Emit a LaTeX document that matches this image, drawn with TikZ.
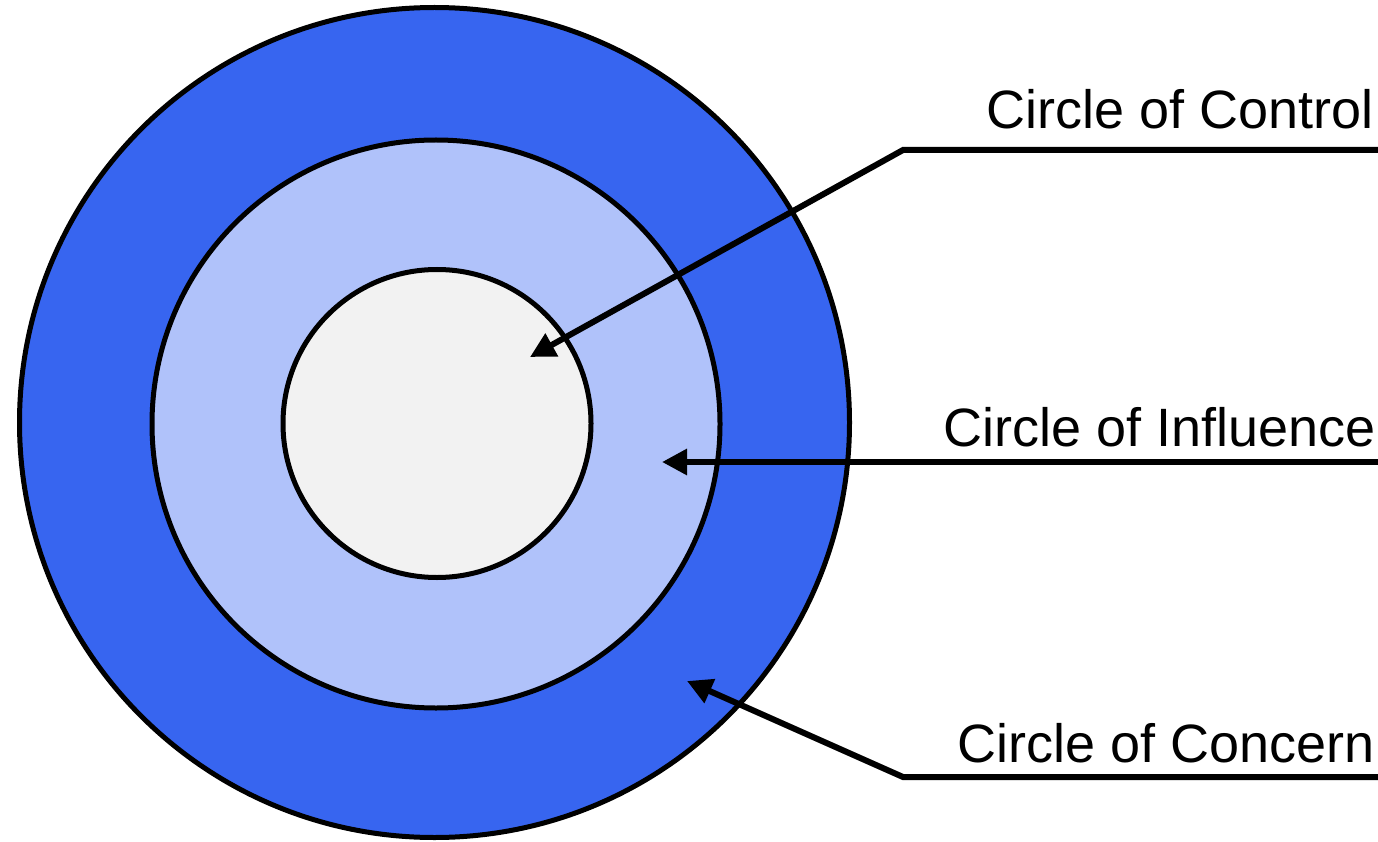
\documentclass[tikz,border=0pt]{standalone}
\usepackage{fontspec}
\setmainfont{Liberation Sans}
\usetikzlibrary{arrows.meta}
\definecolor{concernblue}{RGB}{55,101,240}
\definecolor{influenceblue}{RGB}{176,194,250}
\definecolor{controlgray}{RGB}{242,242,242}
\begin{document}
\begin{tikzpicture}[x=1pt,y=-1pt,
  ring/.style={circle,draw=black,line width=5pt,inner sep=0pt},
  lbl/.style={anchor=base east,inner sep=0pt,font=\fontsize{54}{60}\selectfont},
  conn/.style={draw=black,line width=6pt,line join=miter},
  pointer/.style={conn,-{Triangle[length=25pt,width=25pt]}}]
\useasboundingbox (0,0) rectangle (1378,842);
\node[ring,fill=concernblue,minimum size=830pt] (concern) at (434.5,422.5) {};
\node[ring,fill=influenceblue,minimum size=568pt] (influence) at (436,424) {};
\node[ring,fill=controlgray,minimum size=308pt] (control) at (437,423.5) {};
% labels
\node[lbl] (lcontrol) at (1374,129) {Circle of Control};
\node[lbl] (linfluence) at (1376,446) {Circle of Influence};
\node[lbl] (lconcern) at (1375,762) {Circle of Concern};
% connector points
\coordinate (c1end) at (1378,150);
\coordinate (c1elbow) at (903,150);
\coordinate (c1tip) at (530,357);
\coordinate (c2end) at (1378,462);
\coordinate (c2tip) at (662,462);
\coordinate (c3end) at (1378,777);
\coordinate (c3elbow) at (903,777);
\coordinate (c3tip) at (687,681);
\draw[pointer] (c1end) -- (c1elbow) -- (c1tip);
\draw[pointer] (c2end) -- (c2tip);
\draw[pointer] (c3end) -- (c3elbow) -- (c3tip);
\end{tikzpicture}
\end{document}
